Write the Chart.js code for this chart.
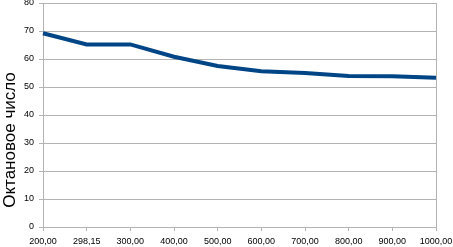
<!DOCTYPE html>
<html><head><meta charset="utf-8">
<script src="https://cdn.jsdelivr.net/npm/chart.js@4/dist/chart.umd.min.js"></script>
<style>html,body{margin:0;padding:0;background:#fff}#w{width:453px;height:247px}</style>
</head><body><div id="w"><canvas id="c" width="453" height="247"></canvas></div>
<script>
const categories = ["200,00","298,15","300,00","400,00","500,00","600,00","700,00","800,00","900,00","1000,00"];
const octaneValues = [69.2, 65.2, 65.2, 60.8, 57.5, 55.6, 55.0, 53.9, 53.8, 53.3];
const yTitle = "Октановое число";
const yMin = 0, yMax = 80, yStep = 10;

const GRID = '#b3b3b3';

// Draws the y-axis title, positioned like the reference (lower than the plot centre)
const yTitlePlugin = {
  id: 'yTitlePlugin',
  afterDraw(chart) {
    const ctx = chart.ctx;
    ctx.save();
    ctx.translate(10, 140);
    ctx.rotate(-Math.PI / 2);
    ctx.font = '17px "Liberation Sans"';
    ctx.fillStyle = '#000';
    ctx.textAlign = 'center';
    ctx.textBaseline = 'middle';
    ctx.fillText(yTitle, 0, 0);
    ctx.restore();
  }
};

new Chart(document.getElementById('c'), {
  type: 'line',
  data: {
    labels: categories,
    datasets: [{
      data: octaneValues,
      borderColor: '#004586',
      borderWidth: 4,
      pointRadius: 0,
      tension: 0,
      fill: false
    }]
  },
  options: {
    responsive: false,
    animation: false,
    devicePixelRatio: 1,
    layout: { padding: { left: 0, right: 17, top: 3, bottom: 0 } },
    plugins: { legend: { display: false }, tooltip: { enabled: false } },
    scales: {
      x: {
        offset: false,
        grid: {
          color: (c) => c.index === categories.length - 1 ? GRID : 'rgba(0,0,0,0)',
          tickColor: GRID,
          tickLength: 4,
          lineWidth: 1
        },
        border: { color: GRID },
        ticks: { maxRotation: 0, autoSkip: false, color: '#000', font: { family: 'Liberation Sans', size: 9 }, padding: 5 },
        afterFit: (s) => { s.height = 20; s.paddingLeft = 0; s.paddingRight = 0; }
      },
      y: {
        min: yMin, max: yMax,
        grid: { color: GRID, tickLength: 4 },
        border: { color: GRID },
        ticks: { stepSize: yStep, color: '#000', font: { family: 'Liberation Sans', size: 9 }, padding: 5 },
        title: { display: false, text: yTitle },
        afterFit: (s) => { s.width = 43; s.paddingTop = 0; s.paddingBottom = 0; }
      }
    }
  },
  plugins: [yTitlePlugin]
});
</script></body></html>
